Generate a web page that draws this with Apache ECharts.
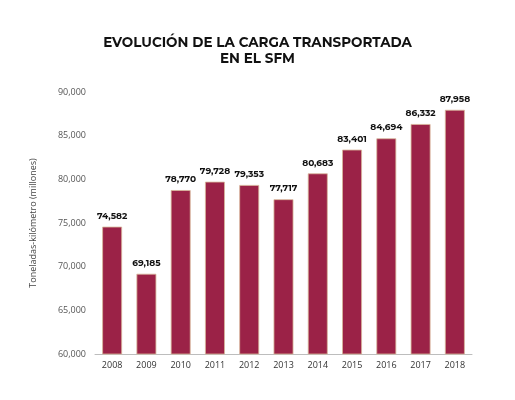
<!DOCTYPE html>
<html>
<head>
<meta charset="utf-8">
<script src="https://cdn.jsdelivr.net/npm/echarts@6/dist/echarts.min.js"></script>
<style>
  html, body { margin: 0; padding: 0; background: #fff; }
  #chart { width: 515px; height: 400px; }
</style>
</head>
<body>
<div id="chart"></div>
<script>
  // Years on the x axis
  const years = ["2008", "2009", "2010", "2011", "2012", "2013", "2014", "2015", "2016", "2017", "2018"];
  // Millions of ton-kilometres per year
  const carga = [74582, 69185, 78770, 79728, 79353, 77717, 80683, 83401, 84694, 86332, 87958];

  const chart = echarts.init(document.getElementById("chart"), null, { renderer: "canvas" });

  const fmt = (v) => v.toLocaleString("en-US");

  chart.setOption({
    animation: false,
    title: {
      text: "EVOLUCIÓN DE LA CARGA TRANSPORTADA\nEN EL SFM",
      left: "center",
      top: 30,
      textStyle: {
        fontFamily: "Montserrat, 'Open Sans', sans-serif",
        fontWeight: "bold",
        fontSize: 13.5,
        lineHeight: 16,
        color: "#111"
      }
    },
    grid: { left: 95, right: 43, top: 92, bottom: 46 },
    xAxis: {
      type: "category",
      data: years,
      axisLine: { lineStyle: { color: "#bdbdbd" } },
      axisTick: { show: false },
      axisLabel: { color: "#333", fontSize: 9, fontFamily: "'Open Sans', sans-serif", margin: 7 }
    },
    yAxis: {
      type: "value",
      min: 60000,
      max: 90000,
      interval: 5000,
      name: "Toneladas-kilómetro (millones)",
      nameLocation: "middle",
      nameGap: 57,
      nameTextStyle: { color: "#444", fontSize: 9, fontFamily: "'Open Sans', sans-serif" },
      splitLine: { show: false },
      axisLine: { show: false },
      axisTick: { show: false },
      axisLabel: {
        color: "#555",
        fontSize: 9,
        fontFamily: "'Open Sans', sans-serif",
        margin: 9,
        formatter: fmt
      }
    },
    series: [{
      type: "bar",
      data: carga,
      barWidth: "58%",
      itemStyle: { color: "#9b2247", borderColor: "#d8b79a", borderWidth: 0.8 },
      label: {
        show: true,
        position: "top",
        distance: 6,
        color: "#111",
        fontSize: 9,
        fontWeight: "bold",
        fontFamily: "Montserrat, 'Open Sans', sans-serif",
        formatter: (p) => fmt(p.value)
      }
    }]
  });
</script>
</body>
</html>
